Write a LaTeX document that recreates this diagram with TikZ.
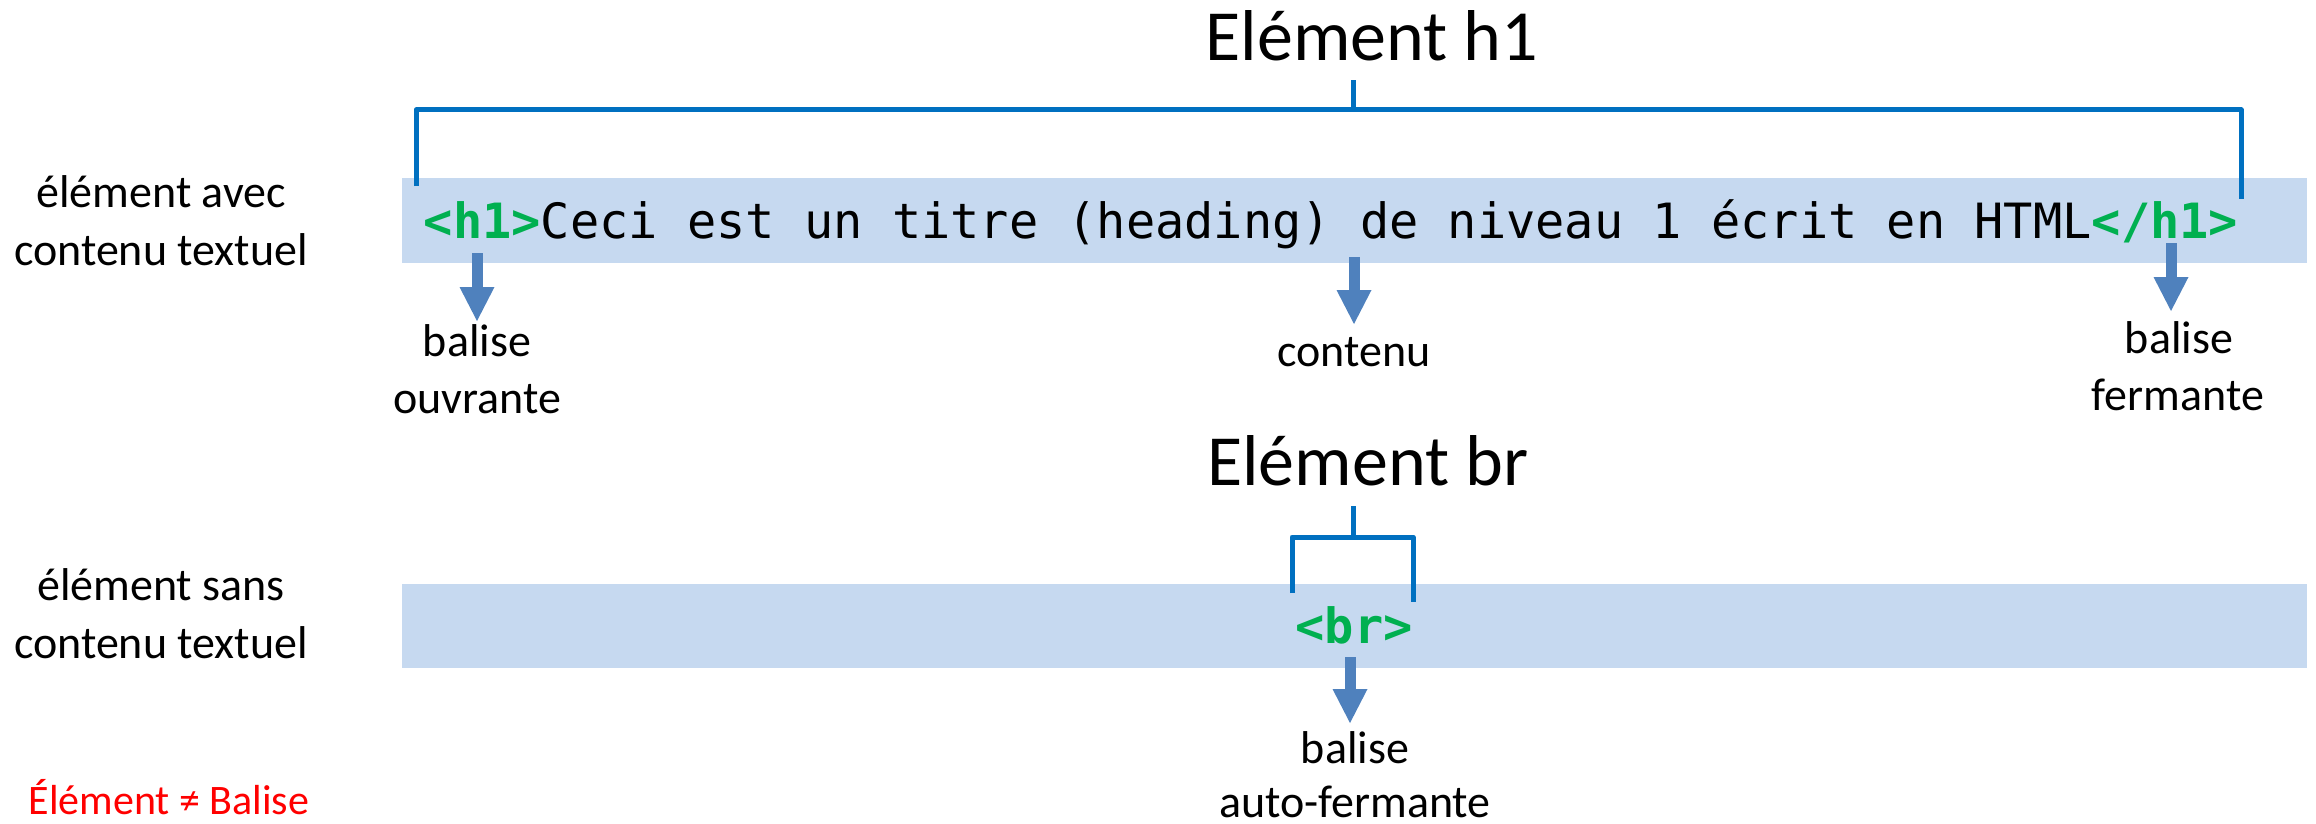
\documentclass[tikz,border=0pt]{standalone}
\usepackage{fontspec}
\setmainfont{Carlito}
\newfontfamily\codefont{DejaVu Sans Mono}
\usetikzlibrary{arrows.meta}
\definecolor{brk}{HTML}{0070C0}
\definecolor{bandc}{HTML}{C6D9F0}
\definecolor{arr}{HTML}{4F81BD}
\definecolor{tagc}{HTML}{00B050}
\definecolor{warn}{HTML}{FF0000}
\begin{document}
\begin{tikzpicture}[x=1pt,y=-1pt,
  titletxt/.style={font=\fontsize{72}{86}\selectfont, anchor=base, inner sep=0pt},
  lbl/.style={font=\fontsize{46}{58}\selectfont, anchor=base, inner sep=0pt},
  codetxt/.style={font=\codefont\fontsize{48.6}{58}\selectfont, anchor=base, inner sep=0pt},
  bandbox/.style={fill=bandc, draw=none, inner sep=0pt, anchor=north west, minimum width=1905pt, minimum height=85pt},
  bracket/.style={draw=brk, line width=5pt, line join=round},
  pointer/.style={draw=arr, line width=11pt, -{Triangle[length=34pt,width=35pt,line width=0pt]}}
]
\useasboundingbox (0,0) rectangle (2316,824);

% bands
\node[bandbox] (band1) at (402,178) {};
\node[bandbox, minimum height=84pt] (band2) at (402,584) {};

% titles
\node[titletxt] (title1) at (1372,61) {Elément h1};
\node[titletxt] (title2) at (1368,485) {Elément br};

% brackets
\draw[bracket] (416,186) |- (2241,110) -- (2241,199);
\draw[bracket] (1353,110) -- (1353,80);
\draw[bracket] (1292,593) |- (1413,537) -- (1413,602);
\draw[bracket] (1353,537) -- (1353,506);

% code lines
\node[codetxt] (code1) at (1331,238) {{\bfseries\color{tagc}<h1>}Ceci est un titre (heading) de niveau 1 écrit en HTML{\bfseries\color{tagc}</h1>}};
\node[codetxt] (code2) at (1354,643) {{\bfseries\color{tagc}<br>}};

% left labels
\node[lbl] (l1a) at (161,207) {élément avec};
\node[lbl] (l1b) at (161,265) {contenu textuel};
\node[lbl] (l2a) at (161,600) {élément sans};
\node[lbl] (l2b) at (161,658) {contenu textuel};
\node[lbl, font=\fontsize{42}{50}\selectfont, text=warn] (warnnote) at (169,814) {Élément ≠ Balise};

% bottom labels
\node[lbl] (ouv1) at (477,356) {balise};
\node[lbl] (ouv2) at (477,413) {ouvrante};
\node[lbl] (cont) at (1354,366) {contenu};
\node[lbl] (fer1) at (2179,353) {balise};
\node[lbl] (fer2) at (2178,410) {fermante};
\node[lbl] (auto1) at (1355,763) {balise};
\node[lbl] (auto2) at (1355,817) {auto-fermante};

% arrows
\coordinate (a1s) at (477,253);  \coordinate (a1e) at (477,321);
\coordinate (a2s) at (1354,257); \coordinate (a2e) at (1354,324);
\coordinate (a3s) at (2171,243); \coordinate (a3e) at (2171,311);
\coordinate (a4s) at (1350,657); \coordinate (a4e) at (1350,723);
\draw[pointer] (a1s) -- (a1e);
\draw[pointer] (a2s) -- (a2e);
\draw[pointer] (a3s) -- (a3e);
\draw[pointer] (a4s) -- (a4e);
\end{tikzpicture}
\end{document}
